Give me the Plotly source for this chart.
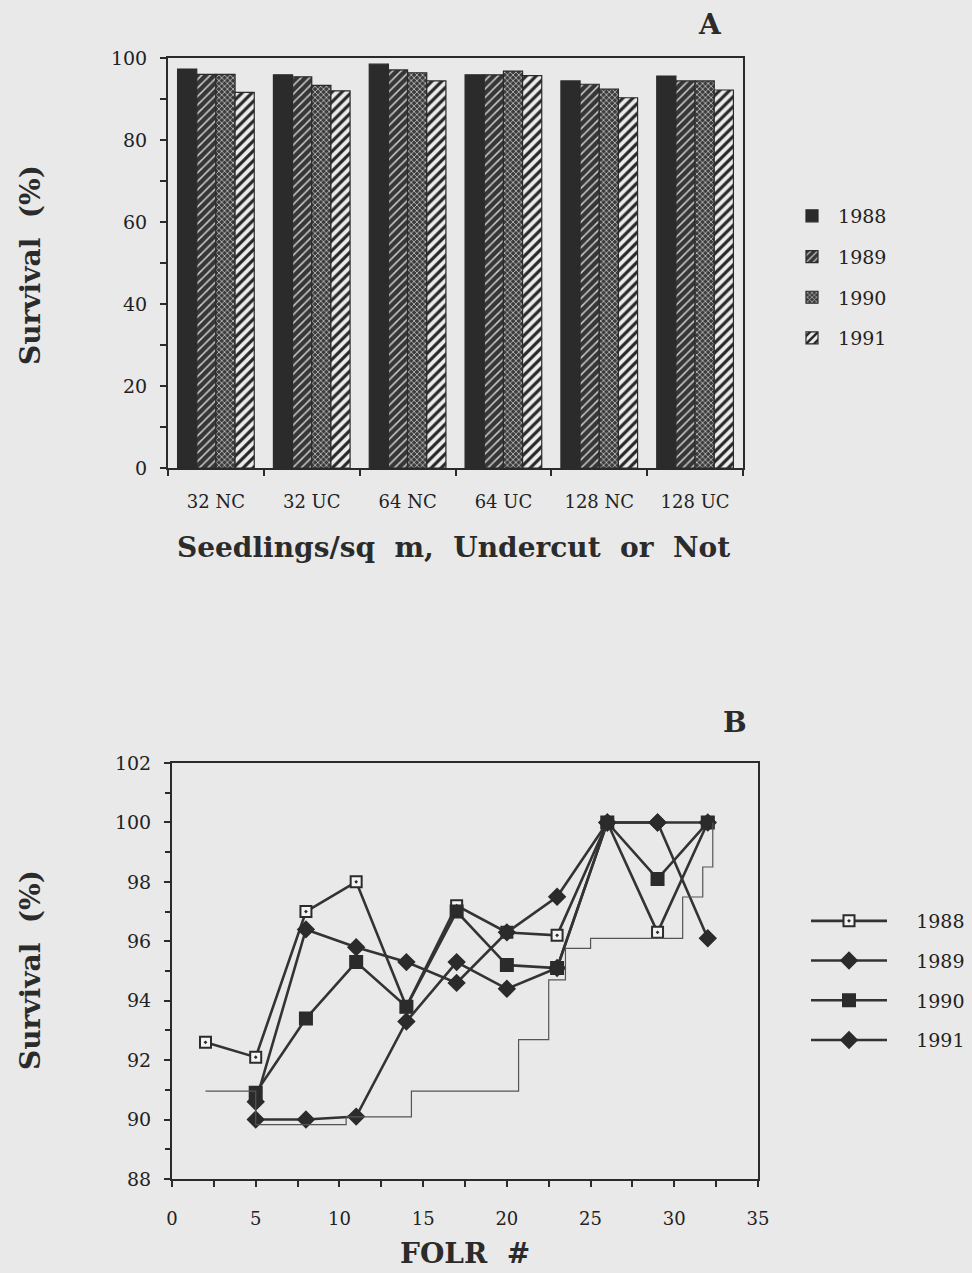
import plotly.graph_objects as go

# ---------------- Panel A: survival by density / undercut treatment ----------------
treatments = ["32 NC", "32 UC", "64 NC", "64 UC", "128 NC", "128 UC"]
surv_1988 = [97.3, 95.9, 98.5, 95.9, 94.4, 95.6]
surv_1989 = [96.0, 95.4, 97.1, 95.9, 93.6, 94.4]
surv_1990 = [96.0, 93.3, 96.4, 96.8, 92.4, 94.4]
surv_1991 = [91.6, 92.0, 94.4, 95.7, 90.3, 92.2]

# ---------------- Panel B: survival by FOLR number ----------------
folr = [2, 5, 8, 11, 14, 17, 20, 23, 26, 29, 32]
folr_1988 = [92.6, 92.1, 97.0, 98.0, 93.8, 97.2, 96.3, 96.2, 100.0, 96.3, 100.0]
folr_1989 = [None, 90.6, 96.4, 95.8, 95.3, 94.6, 96.3, 97.5, 100.0, 100.0, 100.0]
folr_1990 = [None, 90.9, 93.4, 95.3, 93.8, 97.0, 95.2, 95.1, 100.0, 98.1, 100.0]
folr_1991 = [None, 90.0, 90.0, 90.1, 93.3, 95.3, 94.4, 95.1, 100.0, 100.0, 96.1]

# stepped reference outline under the curves
step_x = [2.0, 5.0, 5.0, 10.4, 10.4, 14.3, 14.3, 20.7, 20.7, 22.5, 22.5, 23.5, 23.5,
          25.0, 25.0, 30.5, 30.5, 31.7, 31.7, 32.3, 32.3]
step_y = [90.96, 90.96, 89.83, 89.83, 90.09, 90.09, 90.96, 90.96, 92.69, 92.69, 94.7, 94.7, 95.76,
          95.76, 96.1, 96.1, 97.49, 97.49, 98.5, 98.5, 100.0]

years = ["1988", "1989", "1990", "1991"]

PAPER = "#e9e9e9"
INK = "#2b2b2b"
SERIF = "DejaVu Serif"
NBSP = "\u00a0"

W, H = 972, 1273


def px_x(a, b):
    return [a / W, b / W]


def px_y(top, bottom):
    return [(H - bottom) / H, (H - top) / H]


fig = go.Figure()

bar_styles = [
    dict(shape="", bgcolor=INK, fgcolor=INK, size=6, solidity=0.3),
    dict(shape="/", bgcolor="#363636", fgcolor="#cfcfcf", size=6, solidity=0.25),
    dict(shape="x", bgcolor="#3c3c3c", fgcolor="#c8c8c8", size=4, solidity=0.35),
    dict(shape="/", bgcolor="#ececec", fgcolor="#262626", size=7, solidity=0.45),
]
for yr, vals, pat in zip(years, [surv_1988, surv_1989, surv_1990, surv_1991], bar_styles):
    fig.add_trace(go.Bar(
        x=treatments, y=vals, name=NBSP + yr,
        marker=dict(color=pat["bgcolor"],
                    line=dict(color=INK, width=1.2),
                    pattern=dict(shape=pat["shape"], bgcolor=pat["bgcolor"],
                                 fgcolor=pat["fgcolor"], size=pat["size"],
                                 solidity=pat["solidity"], fillmode="replace")),
        xaxis="x", yaxis="y", legend="legend", legendgroup=yr + "a",
    ))

line_styles = [
    dict(symbol="square-dot", size=11, color="#f4f4f4"),
    dict(symbol="diamond", size=12, color=INK),
    dict(symbol="square", size=12, color=INK),
    dict(symbol="diamond", size=12, color=INK),
]
for yr, vals, ms in zip(years, [folr_1988, folr_1989, folr_1990, folr_1991], line_styles):
    fig.add_trace(go.Scatter(
        x=folr, y=vals, name=NBSP * 4 + yr, mode="lines+markers", connectgaps=False,
        line=dict(color="#333333", width=2.6),
        marker=dict(symbol=ms["symbol"], size=ms["size"], color=ms["color"],
                    line=dict(color=INK, width=2)),
        xaxis="x2", yaxis="y2", legend="legend2", legendgroup=yr + "b",
    ))

fig.add_trace(go.Scatter(
    x=step_x, y=step_y, mode="lines", showlegend=False, hoverinfo="skip",
    line=dict(color="#555555", width=1.2), xaxis="x2", yaxis="y2",
))

axis_common = dict(showline=True, linecolor=INK, linewidth=2, mirror=True,
                   ticks="outside", tickcolor=INK, tickwidth=2, ticklen=6,
                   showgrid=False, zeroline=False)
xfont = dict(family=SERIF, size=18, color="#222222")
yfont = dict(family=SERIF, size=19, color="#222222")

fig.update_layout(
    width=W, height=H,
    margin=dict(l=0, r=0, t=0, b=0, autoexpand=False),
    paper_bgcolor=PAPER, plot_bgcolor=PAPER,
    barmode="group", bargap=0.2, bargroupgap=0,
    showlegend=True,
    xaxis=dict(domain=px_x(168, 743), anchor="y", type="category",
               tickson="boundaries", ticklabelstandoff=16, tickfont=xfont, **axis_common),
    yaxis=dict(domain=px_y(58, 468), anchor="x", range=[0, 100], dtick=20,
               ticklabelstandoff=9, tickfont=yfont,
               minor=dict(dtick=10, ticks="outside", ticklen=6, tickwidth=2, tickcolor=INK),
               **axis_common),
    xaxis2=dict(domain=px_x(172, 758), anchor="y2", range=[0, 35], dtick=5,
                minor=dict(dtick=2.5, ticks="outside", ticklen=6, tickwidth=2, tickcolor=INK),
                ticklabelstandoff=16, tickfont=xfont, **axis_common),
    yaxis2=dict(domain=px_y(763, 1179), anchor="x2", range=[88, 102], dtick=2,
                ticklabelstandoff=9, tickfont=yfont,
                minor=dict(dtick=1, ticks="outside", ticklen=5, tickwidth=2, tickcolor=INK),
                **axis_common),
    legend=dict(x=792 / W, y=(H - 197) / H, xanchor="left", yanchor="top",
                bgcolor="rgba(0,0,0,0)", tracegroupgap=13,
                font=dict(family=SERIF, size=19, color="#222222"), itemwidth=30),
    legend2=dict(x=806 / W, y=(H - 902) / H, xanchor="left", yanchor="top",
                 bgcolor="rgba(0,0,0,0)", tracegroupgap=12,
                 font=dict(family=SERIF, size=19, color="#222222"), itemwidth=76),
)

title_font = dict(family=SERIF, size=28, color=INK)
annotations = [
    dict(text="<b>A</b>", x=710 / W, y=(H - 25) / H, font=title_font),
    dict(text="<b>B</b>", x=735 / W, y=(H - 722) / H, font=title_font),
    dict(text="<b>Survival  (%)</b>", x=30 / W, y=(H - 265) / H, textangle=-90, font=title_font),
    dict(text="<b>Survival  (%)</b>", x=30 / W, y=(H - 970) / H, textangle=-90, font=title_font),
    dict(text="<b>Seedlings/sq  m,  Undercut  or  Not</b>", x=453 / W, y=(H - 547) / H, font=title_font),
    dict(text="<b>FOLR  #</b>", x=465 / W, y=(H - 1253) / H, font=title_font),
]
for a in annotations:
    fig.add_annotation(xref="paper", yref="paper", showarrow=False,
                       xanchor="center", yanchor="middle", **a)

fig.write_html("out.html")
